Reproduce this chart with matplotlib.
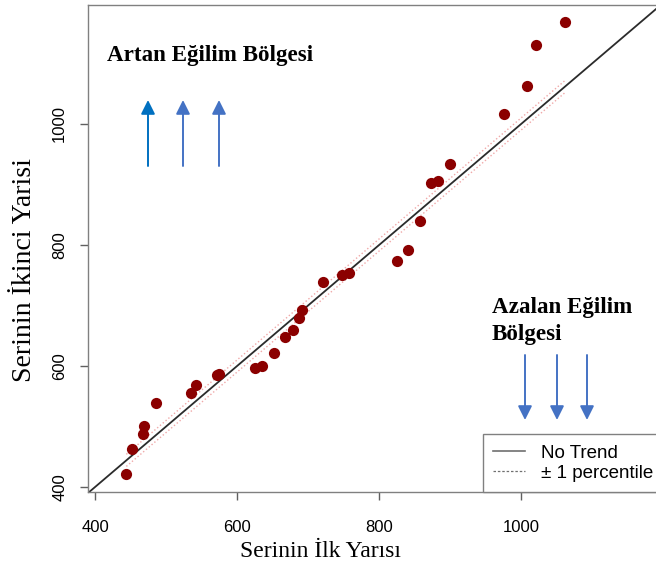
import matplotlib
matplotlib.use('Agg')
import matplotlib.pyplot as plt
from matplotlib.lines import Line2D
import numpy as np

# values (first half vs second half of series)
first_half = [444, 452, 468, 469, 486, 535, 542, 572, 575, 625, 635, 652,
              668, 679, 687, 692, 721, 748, 758, 825, 841, 858, 873, 883,
              900, 976, 1008, 1021, 1062]
second_half = [422, 463, 488, 501, 539, 555, 569, 585, 587, 597, 600, 621,
               648, 659, 679, 693, 739, 750, 754, 773, 792, 840, 902, 906,
               934, 1016, 1063, 1131, 1169]
pct_offset = 10
x_ticks = [400, 600, 800, 1000]
y_ticks = [400, 600, 800, 1000]

W, H = 656, 565
fig = plt.figure(figsize=(W / 100, H / 100), dpi=100)
ax = fig.add_axes([88 / W, (H - 492) / H, 1.0 - 88 / W, (492 - 5) / H])

sans = 'Liberation Sans'
serif = 'Liberation Serif'

xmin, xmax = 390, 1190
ymin, ymax = 391.7, 1196.7
ax.set_xlim(xmin, xmax)
ax.set_ylim(ymin, ymax)

# no trend line (1:1) and +-1 percentile band
ref = np.array([xmin, xmax])
ax.plot(ref, ref, color='#2b2b2b', lw=1.3, zorder=2)
band = np.array([min(first_half), max(first_half)])
ax.plot(band, band + pct_offset, color='#f0a8a8', lw=1.0, ls=':', zorder=1)
ax.plot(band, band - pct_offset, color='#f0a8a8', lw=1.0, ls=':', zorder=1)

ax.scatter(first_half, second_half, s=65, color='#8b0000', zorder=3, linewidths=0)

# axes styling (R-like)
for side in ['left', 'top', 'bottom']:
    ax.spines[side].set_color('#808080')
    ax.spines[side].set_linewidth(1.0)
ax.spines['right'].set_visible(False)
ax.set_xticks(x_ticks)
ax.set_yticks(y_ticks)
ax.set_xticklabels([str(t) for t in x_ticks], fontfamily=sans, fontsize=12)
ax.set_yticklabels([str(t) for t in y_ticks], fontfamily=sans, fontsize=12,
                   rotation=90, va='center')
ax.tick_params(axis='x', direction='out', length=6, width=1.0,
               color='#606060', pad=14)
ax.tick_params(axis='y', direction='out', length=6, width=1.0,
               color='#606060', pad=9)

ax.set_xlabel('Serinin İlk Yarısı', fontfamily=serif, fontsize=17)
ax.xaxis.set_label_coords((320 - 88) / (W - 88), -(541 - 492) / 487)
ax.set_ylabel('Serinin İkinci Yarisi', fontfamily=serif, fontsize=20)
ax.yaxis.set_label_coords(-(88 - 37) / (W - 88), 0.5 + (248 - 270) / 487)

# region annotations
fig.text(107 / W, 1 - 55 / H, 'Artan Eğilim Bölgesi', fontfamily=serif,
         fontweight='bold', fontsize=16.6, va='center', ha='left')
fig.text(492 / W, 1 - 321 / H, 'Azalan Eğilim\nBölgesi', fontfamily=serif,
         fontweight='bold', fontsize=16.6, va='center', ha='left',
         linespacing=1.35)

up_x = [148, 183, 219]
up_colors = ['#0070c0', '#4472c4', '#4472c4']
for x, c in zip(up_x, up_colors):
    ax.annotate('', xy=(x, H - 100), xytext=(x, H - 166), xycoords='figure pixels',
                textcoords='figure pixels',
                arrowprops=dict(arrowstyle='-|>', color=c, lw=1.4,
                                mutation_scale=21, shrinkA=0, shrinkB=0))
down_x = [525, 557, 587]
for x in down_x:
    ax.annotate('', xy=(x, H - 420), xytext=(x, H - 355), xycoords='figure pixels',
                textcoords='figure pixels',
                arrowprops=dict(arrowstyle='-|>', color='#4472c4', lw=1.4,
                                mutation_scale=21, shrinkA=0, shrinkB=0))

handles = [Line2D([], [], color='#707070', lw=1.2),
           Line2D([], [], color='#707070', lw=0.9, ls=(0, (2, 1.5)))]
leg = fig.legend(handles, ['No Trend', '± 1 percentile'], loc='lower left',
                 bbox_to_anchor=(483 / W, (H - 492) / H), borderaxespad=0,
                 prop={'family': sans, 'size': 13.5}, frameon=True,
                 fancybox=False, framealpha=1, edgecolor='#808080',
                 handlelength=1.7, handletextpad=0.85, borderpad=0.55,
                 labelspacing=0.15)
leg.get_frame().set_linewidth(1.0)

fig.savefig('out.png', dpi=100)
